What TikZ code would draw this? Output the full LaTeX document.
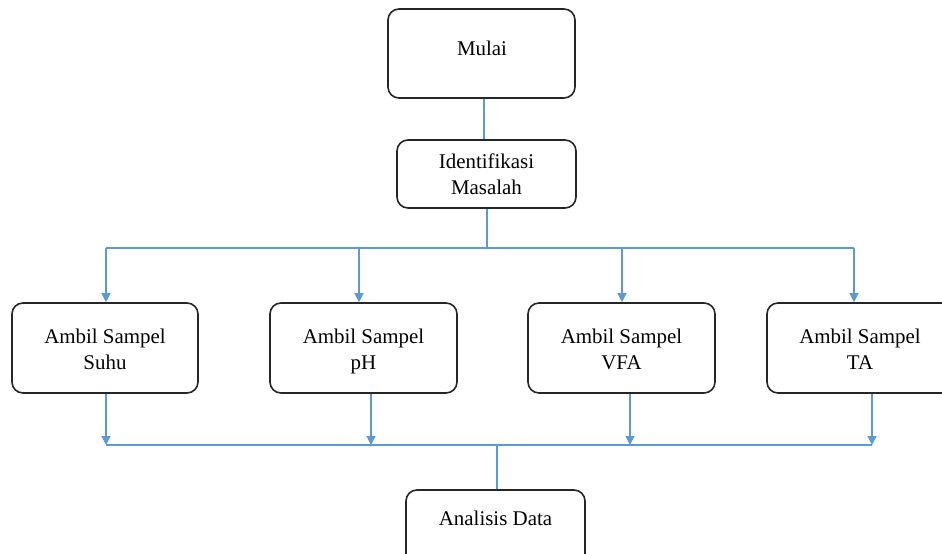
\documentclass[tikz,border=0pt]{standalone}
\usepackage{fontspec}
\setmainfont{Liberation Serif}
\usetikzlibrary{arrows.meta}
\definecolor{conn}{HTML}{5B9BD5}
\tikzset{
  box/.style={draw=black!85, line width=1.6bp, rounded corners=11bp, fill=white, align=center, font=\fontsize{21}{26}\selectfont, inner sep=0pt},
  txt/.style={align=center, font=\fontsize{21}{26}\selectfont, inner sep=0pt},
  conline/.style={draw=conn, line width=1.3bp},
  conarrow/.style={conline, -{Triangle[width=9bp,length=9bp]}}
}
\begin{document}
\begin{tikzpicture}[x=1bp,y=-1bp]
\useasboundingbox (0,0) rectangle (942,554);
% boxes
\node[box, minimum width=187bp, minimum height=89bp] (mulai) at (481.5,53.5) {};
\node[txt] (mulaitxt) at (482,48) {Mulai};
\node[box, minimum width=179bp, minimum height=68bp] (ident) at (486.5,174) {};
\node[txt] (identtxt) at (486.5,176) {Identifikasi\strut\\Masalah\strut};
\node[box, minimum width=186bp, minimum height=90bp] (s1) at (105,348) {};
\node[txt] (s1txt) at (105,351) {Ambil Sampel\strut\\Suhu\strut};
\node[box, minimum width=187bp, minimum height=90bp] (s2) at (363.5,348) {};
\node[txt] (s2txt) at (363.5,351) {Ambil Sampel\strut\\pH\strut};
\node[box, minimum width=187bp, minimum height=90bp] (s3) at (621.5,348) {};
\node[txt] (s3txt) at (621.5,351) {Ambil Sampel\strut\\VFA\strut};
\node[box, minimum width=188bp, minimum height=90bp] (s4) at (861,348) {};
\node[txt] (s4txt) at (860,351) {Ambil Sampel\strut\\TA\strut};
\node[box, minimum width=179bp, minimum height=80bp] (ana) at (495.5,530) {};
\node[txt] (anatxt) at (495.5,518) {Analisis Data};
% coordinates
\coordinate (b1) at (106,248);
\coordinate (b2) at (359,248);
\coordinate (b3) at (622,248);
\coordinate (b4) at (854,248);
\coordinate (bi) at (487,248);
\coordinate (c1) at (106,445);
\coordinate (c2) at (371,445);
\coordinate (c3) at (630,445);
\coordinate (c4) at (872,445);
\coordinate (ca) at (497,445);
% connectors
\draw[conline] (mulai.south -| 484,0) -- (ident.north -| 484,0);
\draw[conline] (ident.south -| bi) -- (bi);
\draw[conline] (b1) -- (b4);
\draw[conarrow] (b1) -- (b1 |- s1.north);
\draw[conarrow] (b2) -- (b2 |- s2.north);
\draw[conarrow] (b3) -- (b3 |- s3.north);
\draw[conarrow] (b4) -- (b4 |- s4.north);
\draw[conarrow] (c1 |- s1.south) -- (c1);
\draw[conarrow] (c2 |- s2.south) -- (c2);
\draw[conarrow] (c3 |- s3.south) -- (c3);
\draw[conarrow] (c4 |- s4.south) -- (c4);
\draw[conline] (c1) -- (c4);
\draw[conline] (ca) -- (ca |- ana.north);
\end{tikzpicture}
\end{document}
